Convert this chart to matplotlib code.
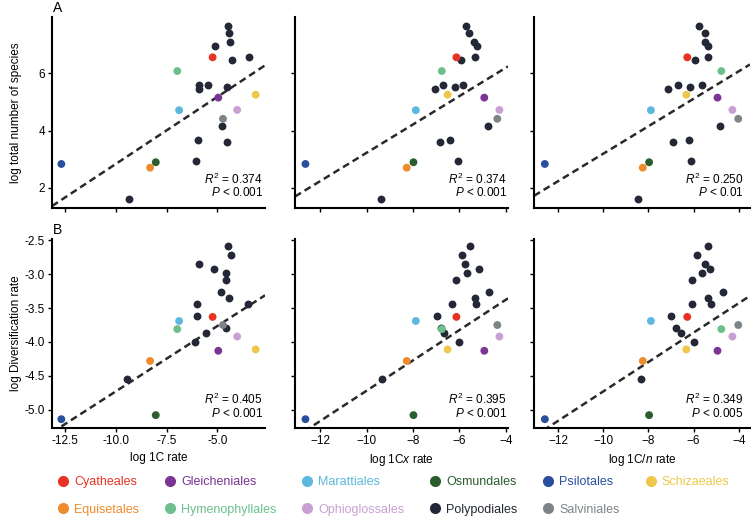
import numpy as np
import matplotlib
matplotlib.use("Agg")
import matplotlib.pyplot as plt
from matplotlib.lines import Line2D

plt.rcParams['font.family'] = ['Liberation Sans', 'DejaVu Sans']
plt.rcParams['mathtext.fontset'] = 'custom'
plt.rcParams['mathtext.rm'] = 'Liberation Sans'
plt.rcParams['mathtext.it'] = 'Liberation Sans:italic'

# ------------------- Orders (one point each) ------------------- #
orders = ['Cyatheales', 'Gleicheniales', 'Marattiales', 'Osmundales', 'Psilotales',
          'Schizaeales', 'Equisetales', 'Hymenophyllales', 'Ophioglossales', 'Salviniales']
order_colors = ['#e63323', '#7b3594', '#5cb8dc', '#2b5d2e', '#2a4e9e',
                '#edc84c', '#ee8b2c', '#6cc08c', '#c9a0d2', '#7d8487']
order_x1C = [-5.23, -4.95, -6.88, -8.03, -12.68, -3.11, -8.31, -6.97, -4.02, -4.72]
order_x1Cx = [-6.13, -4.93, -7.88, -7.98, -12.63, -6.51, -8.27, -6.76, -4.28, -4.37]
order_x1Cn = [-6.28, -4.94, -7.89, -7.97, -12.59, -6.32, -8.25, -4.77, -4.28, -4.02]
order_logN = [6.56, 5.15, 4.71, 2.89, 2.83, 5.25, 2.70, 6.08, 4.72, 4.41]
order_logDiv = [-3.63, -4.13, -3.69, -5.08, -5.14, -4.11, -4.28, -3.81, -3.92, -3.75]

# ------------------- Polypodiales (many points) ------------------- #
poly_color = '#242836'
# top row: log total number of species
poly_logN = [7.66, 7.40, 7.11, 6.96, 6.58, 6.47, 5.59, 5.58, 5.51, 5.44, 4.17, 3.67, 3.61, 2.94, 1.60]
poly_top_x1C = [-4.49, -4.41, -4.38, -5.10, -3.42, -4.28, -5.89, -5.46, -4.51, -5.92, -4.75, -5.93, -4.52, -6.05, -9.35]
poly_top_x1Cx = [-5.72, -5.59, -5.39, -5.23, -5.35, -5.92, -6.70, -5.84, -6.19, -7.04, -4.79, -6.39, -6.82, -6.08, -9.39]
poly_top_x1Cn = [-5.74, -5.48, -5.48, -5.37, -5.37, -5.95, -6.67, -5.62, -6.18, -7.15, -4.81, -6.20, -6.90, -6.11, -8.47]
# bottom row: log diversification rate
poly_logDiv = [-2.59, -2.71, -2.85, -2.92, -2.98, -3.09, -3.26, -3.35, -3.44, -3.44, -3.62, -3.80, -3.87, -4.00, -4.54]
poly_bot_x1C = [-4.47, -4.34, -5.92, -5.16, -4.56, -4.59, -4.84, -4.43, -3.51, -6.00, -6.00, -4.59, -5.54, -6.12, -9.45]
poly_bot_x1Cx = [-5.53, -5.88, -5.78, -5.16, -5.66, -6.15, -4.73, -5.33, -5.29, -6.34, -6.98, -6.81, -6.67, -6.02, -9.32]
poly_bot_x1Cn = [-5.36, -5.84, -5.49, -5.27, -5.64, -6.08, -4.70, -5.36, -5.25, -6.08, -7.02, -6.77, -6.54, -5.98, -8.33]

# regression lines (slope, intercept)
fit_top = [(0.469, 7.52), (0.496, 8.18), (0.480, 7.99)]
fit_bot = [(0.193, -2.80), (0.224, -2.48), (0.217, -2.56)]
stats_top = [('0.374', '< 0.001'), ('0.374', '< 0.001'), ('0.250', '< 0.01')]
stats_bot = [('0.405', '< 0.001'), ('0.395', '< 0.001'), ('0.349', '< 0.005')]

xlabels = ['log 1C rate', r'log 1C$\it{x}$ rate', r'log 1C/$\it{n}$ rate']
xlims = [(-13.14, -2.65), (-13.08, -3.91), (-13.07, -3.5)]
xticks = [[-12.5, -10.0, -7.5, -5.0], [-12, -10, -8, -6, -4], [-12, -10, -8, -6, -4]]
ylim_top = (1.29, 7.97)
ylim_bot = (-5.27, -2.48)
yticks_top = [2, 4, 6]
yticks_bot = [-5.0, -4.5, -4.0, -3.5, -3.0, -2.5]

W, H = 751, 518
fig = plt.figure(figsize=(W / 100, H / 100), dpi=100)

col_px = [(52, 265), (295, 508), (534, 750)]
row_px = [(17, 208), (239, 428)]
stat_x = [0.99, 0.995, 0.97]

x_top = [order_x1C, order_x1Cx, order_x1Cn]
px_top = [poly_top_x1C, poly_top_x1Cx, poly_top_x1Cn]
px_bot = [poly_bot_x1C, poly_bot_x1Cx, poly_bot_x1Cn]

for r in range(2):
    for c in range(3):
        l, rr = col_px[c]
        t, b = row_px[r]
        ax = fig.add_axes([l / W, (H - b) / H, (rr - l) / W, (b - t) / H])
        if r == 0:
            ax.scatter(px_top[c], poly_logN, s=32, color=poly_color, linewidths=0, zorder=2)
            ax.scatter(x_top[c], order_logN, s=32, c=order_colors, linewidths=0, zorder=3)
            slope, icpt = fit_top[c]
            ax.set_ylim(*ylim_top)
            ax.set_yticks(yticks_top)
            stats = stats_top[c]
        else:
            ax.scatter(px_bot[c], poly_logDiv, s=32, color=poly_color, linewidths=0, zorder=2)
            ax.scatter(x_top[c], order_logDiv, s=32, c=order_colors, linewidths=0, zorder=3)
            slope, icpt = fit_bot[c]
            ax.set_ylim(*ylim_bot)
            ax.set_yticks(yticks_bot)
            ax.yaxis.set_major_formatter(matplotlib.ticker.FormatStrFormatter('%.1f'))
            stats = stats_bot[c]

        xx = np.array(xlims[c])
        ax.plot(xx, icpt + slope * xx, color='#2a2a2a', lw=1.8,
                linestyle=(0, (2.8, 1.7)), zorder=1)
        ax.set_xlim(*xlims[c])
        ax.set_xticks(xticks[c])
        if xticks[c][0] == -12.5:
            ax.xaxis.set_major_formatter(matplotlib.ticker.FormatStrFormatter('%.1f'))

        for side in ['top', 'right']:
            ax.spines[side].set_visible(False)
        for side in ['left', 'bottom']:
            ax.spines[side].set_linewidth(1.5)
        ax.tick_params(direction='out', length=3, width=1, labelsize=8.5, pad=2)

        if r == 0:
            ax.tick_params(axis='x', labelbottom=False)
        else:
            ax.set_xlabel(xlabels[c], fontsize=8.5, labelpad=4)
        if c > 0:
            ax.tick_params(axis='y', labelleft=False)

        ax.text(stat_x[c], 0.152, r'$R^2$ = ' + stats[0], transform=ax.transAxes,
                ha='right', va='center', fontsize=8.5)
        ax.text(stat_x[c], 0.079, r'$P$ ' + stats[1], transform=ax.transAxes,
                ha='right', va='center', fontsize=8.5)

        if c == 0:
            if r == 0:
                ax.set_ylabel('log total number of species', fontsize=8.5)
            else:
                ax.set_ylabel('log Diversification rate', fontsize=8.5)
            ax.yaxis.set_label_coords(-30 / (rr - l), 0.5)

fig.text(58 / W, 1 - 8 / H, 'A', fontsize=10, ha='center', va='center')
fig.text(58 / W, 1 - 230 / H, 'B', fontsize=10, ha='center', va='center')

# legend, column-major so that it reads row by row like the original
legend_order = ['Cyatheales', 'Equisetales', 'Gleicheniales', 'Hymenophyllales',
                'Marattiales', 'Ophioglossales', 'Osmundales', 'Polypodiales',
                'Psilotales', 'Salviniales', 'Schizaeales']
color_map = dict(zip(orders, order_colors))
color_map['Polypodiales'] = poly_color
handles = [Line2D([], [], marker='o', linestyle='', markersize=8,
                  markerfacecolor=color_map[n], markeredgewidth=0) for n in legend_order]
fig.legend(handles, legend_order, ncol=6, loc='upper left',
           bbox_to_anchor=(58 / W, 1 - 476 / H), frameon=False, fontsize=9,
           handlelength=0.8, handletextpad=0.5, columnspacing=2.05,
           labelspacing=1.25, borderpad=0, borderaxespad=0,
           labelcolor=[color_map[n] for n in legend_order])

fig.savefig('out.png', dpi=100)
